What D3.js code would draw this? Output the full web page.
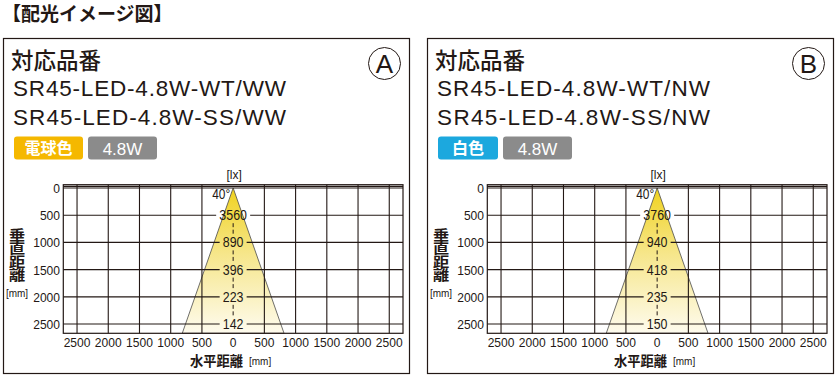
<!DOCTYPE html>
<html>
<head>
<meta charset="utf-8">
<script src="https://cdn.jsdelivr.net/npm/d3@7"></script>
<style>
  html, body { margin: 0; padding: 0; background: #fff; }
  svg { display: block; }
  text { font-family: "Liberation Sans", Arial, "Noto Sans CJK JP", sans-serif; fill: #231815; }
  .jp { font-family: "Noto Sans CJK JP", sans-serif; }
</style>
</head>
<body>
<svg id="chart" width="838" height="377"></svg>
<script>
// データ
const pageTitle = '【配光イメージ図】'
const panelIds = ['A', 'B']
const modelsA = ['SR45-LED-4.8W-WT/WW', 'SR45-LED-4.8W-SS/WW']
const modelsB = ['SR45-LED-4.8W-WT/NW', 'SR45-LED-4.8W-SS/NW']
const colorNames = ['電球色', '白色']
const colorBadge = ['#f5b800', '#1ca8de']
const wattLabel = '4.8W'
const beamAngle = '40°'
const depthTicks = [0, 500, 1000, 1500, 2000, 2500]          // 垂直距離 mm
const widthTicks = [-2500, -2000, -1500, -1000, -500, 0, 500, 1000, 1500, 2000, 2500] // 水平距離 mm
const luxDepths = [500, 1000, 1500, 2000, 2500]
const luxA = [3560, 890, 396, 223, 142]
const luxB = [3760, 940, 418, 235, 150]
// 光のひろがり（配光の外形） 深さ / 半幅 mm
const coneDepth = [0, 2670]
const coneHalf = [0, 815]

const svg = d3.select('#chart')
const defs = svg.append('defs')

svg.append('text')
    .attr('class', 'jp')
    .attr('x', 2).attr('y', 21)
    .attr('font-size', 19).attr('font-weight', 'bold')
    .text(pageTitle)

function drawPanel(idx, dx, models, lux) {
    const g = svg.append('g').attr('transform', 'translate(' + dx + ',0)')

    // 枠
    g.append('rect')
        .attr('x', 3.5).attr('y', 38.5)
        .attr('width', 406).attr('height', 335)
        .attr('fill', 'none').attr('stroke', '#231815').attr('stroke-width', 1.2)

    g.append('text').attr('class', 'jp')
        .attr('x', 11).attr('y', 69)
        .attr('font-size', 22.5).attr('font-weight', 500)
        .text('対応品番')

    g.selectAll('.model')
        .data(models)
        .enter()
        .append('text')
        .attr('class', 'model')
        .attr('x', 13)
        .attr('y', (d, i) => 95.5 + i * 29)
        .attr('font-size', 22.5)
        .attr('textLength', 273)
        .text(d => d)

    // 丸文字
    g.append('circle')
        .attr('cx', 384.5).attr('cy', 63.5).attr('r', 16)
        .attr('fill', 'none').attr('stroke', '#231815').attr('stroke-width', 1)
    g.append('text')
        .attr('x', 384.5).attr('y', 72.5)
        .attr('text-anchor', 'middle')
        .attr('font-size', 26)
        .text(panelIds[idx])

    // バッジ
    const bw = idx === 0 ? 69 : 60
    g.append('rect')
        .attr('x', 14).attr('y', 136.5)
        .attr('width', bw).attr('height', 23).attr('rx', 3)
        .attr('fill', colorBadge[idx])
    g.append('text').attr('class', 'jp')
        .attr('x', 14 + bw / 2).attr('y', 154)
        .attr('text-anchor', 'middle')
        .attr('font-size', 16).attr('font-weight', 'bold')
        .style('fill', '#fff')
        .text(colorNames[idx])
    const gx = 14 + bw + 5
    g.append('rect')
        .attr('x', gx).attr('y', 136.5)
        .attr('width', 69).attr('height', 23).attr('rx', 3)
        .attr('fill', '#8b8b8b')
    g.append('text')
        .attr('x', gx + 34.5).attr('y', 154.5)
        .attr('text-anchor', 'middle')
        .attr('font-size', 17)
        .style('fill', '#fff')
        .text(wattLabel)

    // スケール
    const x = d3.scaleLinear().domain([-2720, 2720]).range([63.3, 403])
    const y = d3.scaleLinear().domain([-60, 2670]).range([184.7, 333.3])

    const gradId = 'grad' + idx
    const grad = defs.append('linearGradient')
        .attr('id', gradId)
        .attr('gradientUnits', 'userSpaceOnUse')
        .attr('x1', 0).attr('x2', 0)
        .attr('y1', y(0)).attr('y2', y(2670))
    grad.append('stop').attr('offset', '0%').attr('stop-color', '#f0d21e')
    grad.append('stop').attr('offset', '45%').attr('stop-color', '#f6e68a')
    grad.append('stop').attr('offset', '100%').attr('stop-color', '#fefbee')

    // 配光
    const cone = [
        [coneHalf[0], coneDepth[0]],
        [-coneHalf[1], coneDepth[1]],
        [coneHalf[1], coneDepth[1]]
    ]
    g.append('path')
        .attr('d', d3.line().x(d => x(d[0])).y(d => y(d[1]))(cone) + 'Z')
        .attr('fill', 'url(#' + gradId + ')')
        .attr('stroke', '#4a4a4a').attr('stroke-width', 0.8)

    // 照度ラベルの幅（グリッドを切る）
    const labelW = v => String(v).length * 7 + 6
    const luxData = luxDepths.map((d, i) => ({ depth: d, lx: lux[i] }))

    // グリッド
    const grid = g.append('g').attr('stroke', '#231815').attr('stroke-width', 1.1)
    grid.selectAll('.vl')
        .data(widthTicks.filter(d => d !== 0))
        .enter()
        .append('line')
        .attr('x1', d => x(d)).attr('x2', d => x(d))
        .attr('y1', y(-60)).attr('y2', y(2670))
    grid.selectAll('.hl')
        .data(depthTicks.filter(d => luxDepths.indexOf(d) < 0).concat([-30]))
        .enter()
        .append('line')
        .attr('x1', x(-2720)).attr('x2', x(2720))
        .attr('y1', d => y(d)).attr('y2', d => y(d))
    // ラベルのある線は左右に分ける
    luxData.forEach(d => {
        const hw = labelW(d.lx) / 2
        grid.append('line')
            .attr('x1', x(-2720)).attr('x2', x(0) - hw)
            .attr('y1', y(d.depth)).attr('y2', y(d.depth))
        grid.append('line')
            .attr('x1', x(0) + hw).attr('x2', x(2720))
            .attr('y1', y(d.depth)).attr('y2', y(d.depth))
    })
    g.append('rect')
        .attr('x', x(-2720)).attr('y', y(-60))
        .attr('width', x(2720) - x(-2720)).attr('height', y(2670) - y(-60))
        .attr('fill', 'none').attr('stroke', '#231815').attr('stroke-width', 1.2)

    // 中心の破線（ラベルの間）
    d3.pairs(luxDepths).forEach(p => {
        g.append('line')
            .attr('x1', x(0)).attr('x2', x(0))
            .attr('y1', y(p[0]) + 8).attr('y2', y(p[1]) - 8)
            .attr('stroke', '#231815').attr('stroke-width', 1)
            .attr('stroke-dasharray', '4,2.5')
    })

    // 照度ラベル
    g.selectAll('.lux')
        .data(luxData)
        .enter()
        .append('text')
        .attr('x', x(0))
        .attr('y', d => y(d.depth) + 5)
        .attr('text-anchor', 'middle')
        .attr('font-size', 14)
        .attr('textLength', d => String(d.lx).length * 6.9)
        .attr('lengthAdjust', 'spacingAndGlyphs')
        .text(d => d.lx)

    g.append('text')
        .attr('x', x(0) - 3).attr('y', 199)
        .attr('text-anchor', 'end')
        .attr('font-size', 14)
        .attr('textLength', 18)
        .attr('lengthAdjust', 'spacingAndGlyphs')
        .text(beamAngle)
    g.append('text')
        .attr('x', x(0) + 1).attr('y', 179)
        .attr('text-anchor', 'middle')
        .attr('font-size', 12)
        .text('[lx]')

    // 軸ラベル
    g.selectAll('.yt')
        .data(depthTicks)
        .enter()
        .append('text')
        .attr('x', 60)
        .attr('y', d => y(d) + 5)
        .attr('text-anchor', 'end')
        .attr('font-size', 13.5)
        .attr('textLength', d => String(d).length * 6.7)
        .attr('lengthAdjust', 'spacingAndGlyphs')
        .text(d => d)
    g.selectAll('.xt')
        .data(widthTicks)
        .enter()
        .append('text')
        .attr('x', d => x(d))
        .attr('y', 347)
        .attr('text-anchor', 'middle')
        .attr('font-size', 13.5)
        .attr('textLength', d => String(Math.abs(d)).length * 6.7)
        .attr('lengthAdjust', 'spacingAndGlyphs')
        .text(d => Math.abs(d))

    g.append('text').attr('class', 'jp')
        .attr('x', 190).attr('y', 366)
        .attr('font-size', 14).attr('font-weight', 'bold')
        .attr('textLength', 53)
        .attr('lengthAdjust', 'spacingAndGlyphs')
        .text('水平距離')
    g.append('text')
        .attr('x', 249).attr('y', 365)
        .attr('font-size', 10)
        .text('[mm]')

    // 縦書きの軸名
    g.append('text')
        .attr('class', 'jp')
        .attr('transform', 'translate(17,228) scale(1.2,1)')
        .style('writing-mode', 'vertical-rl')
        .attr('font-size', 13.5).attr('font-weight', 'bold')
        .text('垂直距離')
    g.append('text')
        .attr('x', 17).attr('y', 297)
        .attr('text-anchor', 'middle')
        .attr('font-size', 10)
        .text('[mm]')
}

drawPanel(0, 0, modelsA, luxA)
drawPanel(1, 424, modelsB, luxB)
</script>
</body>
</html>
